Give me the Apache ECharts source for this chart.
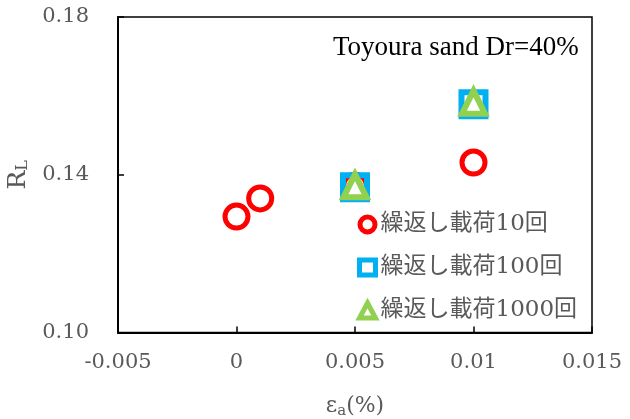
<!DOCTYPE html>
<html>
<head>
<meta charset="utf-8">
<script src="https://cdn.jsdelivr.net/npm/echarts@6/dist/echarts.min.js"></script>
<style>
  html, body { margin: 0; padding: 0; background: #fff; }
  #chart { width: 630px; height: 419px; }
</style>
</head>
<body>
<div id="chart"></div>
<script>
// Liquefaction strength R_L versus axial strain for Toyoura sand (Dr = 40%)
const seriesNames = ['繰返し載荷10回', '繰返し載荷100回', '繰返し載荷1000回'];
const strain10 = [0, 0.001, 0.005, 0.01];
const rl10 = [0.1294, 0.1340, 0.1372, 0.1431];
const strain100 = [0.005, 0.01];
const rl100 = [0.1368, 0.1579];
const strain1000 = [0.005, 0.01];
const rl1000 = [0.1372, 0.1584];
const xTicks = { min: -0.005, max: 0.015, step: 0.005 };
const yTicks = { min: 0.10, max: 0.18, step: 0.04 };
const titleText = 'Toyoura sand Dr=40%';

const pairs = (xs, ys) => xs.map((x, i) => [x, ys[i]]);
const serif = "'DejaVu Serif', serif";
const jpFont = "'DejaVu Serif', 'Noto Sans CJK JP', sans-serif";
const grey = '#595959';

const chart = echarts.init(document.getElementById('chart'), null, { renderer: 'canvas' });

chart.setOption({
  animation: false,
  backgroundColor: '#fff',
  grid: {
    left: 118, top: 17, right: 38, bottom: 86.5,
    outerBoundsMode: 'none', containLabel: false,
    show: true, borderColor: '#000', borderWidth: 1.5, backgroundColor: 'transparent'
  },
  xAxis: {
    type: 'value',
    min: xTicks.min, max: xTicks.max, interval: xTicks.step,
    axisLine: { show: true, onZero: false, lineStyle: { color: '#000', width: 2 } },
    axisTick: { show: true, inside: true, length: 6, lineStyle: { color: '#000', width: 1.5 } },
    splitLine: { show: false },
    axisLabel: {
      margin: 20, color: grey, fontFamily: serif, fontSize: 21,
      formatter: v => String(Number(v.toFixed(3)))
    },
    name: '{e|ε}{s|a}{e|(%)}',
    nameLocation: 'middle', nameGap: 61,
    nameTextStyle: {
      rich: {
        e: { fontFamily: serif, fontSize: 22, color: grey },
        s: { fontFamily: serif, fontSize: 15, color: grey, verticalAlign: 'bottom', padding: [10, 0, 0, 0] }
      }
    }
  },
  yAxis: {
    type: 'value',
    min: yTicks.min, max: yTicks.max, interval: yTicks.step,
    axisLine: { show: true, onZero: false, lineStyle: { color: '#000', width: 2 } },
    axisTick: { show: true, inside: true, length: 6, lineStyle: { color: '#000', width: 1.5 } },
    splitLine: { show: false },
    axisLabel: {
      margin: 29, color: grey, fontFamily: serif, fontSize: 21,
      formatter: v => v.toFixed(2)
    },
    name: '{e|R}{s|L}',
    nameLocation: 'middle', nameGap: 83,
    nameTextStyle: {
      rich: {
        e: { fontFamily: serif, fontSize: 25, color: grey },
        s: { fontFamily: serif, fontSize: 16, color: grey, verticalAlign: 'bottom', padding: [10, 0, 0, 0] }
      }
    }
  },
  legend: {
    orient: 'vertical', left: 357, top: 213, padding: 0,
    itemWidth: 16, itemHeight: 15, itemGap: 20,
    textStyle: { fontFamily: jpFont, fontSize: 23, color: grey },
    data: [
      { name: seriesNames[0], icon: 'circle', itemStyle: { color: '#fff', borderColor: '#FF0000', borderWidth: 5 } },
      { name: seriesNames[1], icon: 'rect', itemStyle: { color: '#fff', borderColor: '#00B0F0', borderWidth: 5 } },
      { name: seriesNames[2], icon: 'triangle', itemStyle: { color: '#fff', borderColor: '#92D050', borderWidth: 5 } }
    ]
  },
  graphic: [{
    type: 'text', left: 333, top: 34,
    style: { text: titleText, fontFamily: "'Liberation Serif', serif", fontSize: 27, fill: '#000' }
  }],
  series: [
    {
      name: seriesNames[0], type: 'scatter', symbol: 'circle', symbolSize: 23,
      itemStyle: { color: '#fff', borderColor: '#FF0000', borderWidth: 5, opacity: 1 },
      data: pairs(strain10, rl10), z: 2
    },
    {
      name: seriesNames[1], type: 'scatter', symbol: 'rect', symbolSize: 24,
      itemStyle: { color: 'transparent', borderColor: '#00B0F0', borderWidth: 6, opacity: 1 },
      data: pairs(strain100, rl100), z: 3
    },
    {
      name: seriesNames[2], type: 'scatter', symbol: 'triangle', symbolSize: 23,
      itemStyle: { color: '#fff', borderColor: '#92D050', borderWidth: 6, opacity: 1 },
      data: pairs(strain1000, rl1000), z: 4
    }
  ]
});
</script>
</body>
</html>
